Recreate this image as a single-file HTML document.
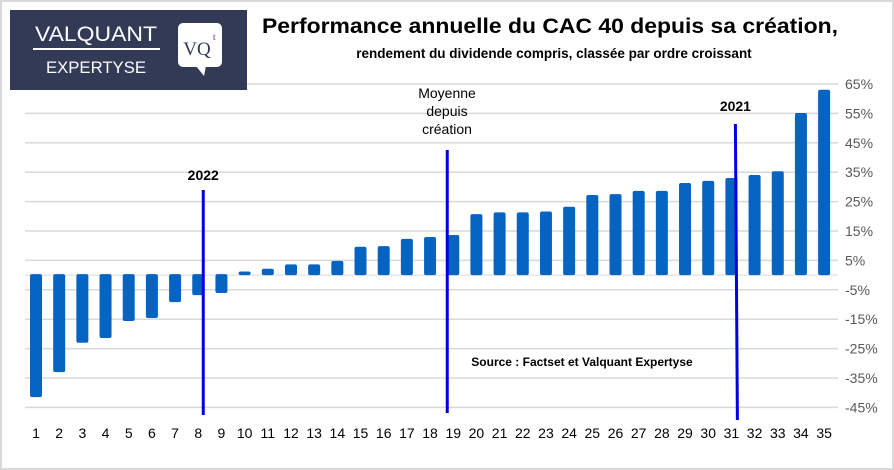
<!DOCTYPE html>
<html><head><meta charset="utf-8"><style>
body{margin:0;background:#fff;}
#wrap{position:relative;width:894px;height:470px;overflow:hidden;font-family:"Liberation Sans",sans-serif;}
</style></head><body>
<div id="wrap">
<svg id="svg" width="894" height="470" xmlns="http://www.w3.org/2000/svg">
<rect x="1" y="1" width="892" height="468" fill="#fff" stroke="#d9d9d9" stroke-width="2"/>
<text x="550" y="33" font-size="21" font-weight="bold" text-anchor="middle" fill="#000" textLength="576" lengthAdjust="spacingAndGlyphs">Performance annuelle du CAC 40 depuis sa création,</text>
<text x="554" y="58" font-size="13.5" font-weight="bold" text-anchor="middle" fill="#000">rendement du dividende  compris, classée par ordre croissant</text>
<g id="grid"></g><g id="bars"></g><g id="labels"></g><g id="ann"></g>
<text x="582" y="366" font-size="12" font-weight="bold" text-anchor="middle">Source : Factset et Valquant Expertyse</text>
<g>
<rect x="10" y="10" width="237" height="80" fill="#323a56"/>
<text x="96" y="41" font-size="21" fill="#fff" text-anchor="middle" font-family="Liberation Sans,sans-serif" textLength="122" lengthAdjust="spacingAndGlyphs">VALQUANT</text>
<rect x="33" y="48" width="127" height="2" fill="#fff"/>
<text x="96" y="73" font-size="17" fill="#fff" text-anchor="middle" font-family="Liberation Sans,sans-serif" textLength="100" lengthAdjust="spacingAndGlyphs">EXPERTYSE</text>
<rect x="178" y="23" width="44" height="44" rx="5" fill="#fff"/>
<path d="M196 66 L204 76 L206 66Z" fill="#fff"/>
<text x="197" y="55" font-size="19" fill="#323a56" text-anchor="middle" font-family="Liberation Serif,serif">VQ</text>
<text x="213" y="40" font-size="9" fill="#323a56" font-family="Liberation Serif,serif">t</text>
</g>
</svg>
</div>
<script>
const categories=[1,2,3,4,5,6,7,8,9,10,11,12,13,14,15,16,17,18,19,20,21,22,23,24,25,26,27,28,29,30,31,32,33,34,35];
const values=[-41.5,-33,-23,-21.4,-15.6,-14.6,-9.2,-6.8,-6.1,0.9,1.8,3.3,3.3,4.5,9.3,9.5,12,12.6,13.3,20.4,21,21,21.3,22.9,26.9,27.2,28.3,28.3,31,31.7,32.7,33.7,35,54.8,62.7];
const yTicks=[65,55,45,35,25,15,5,-5,-15,-25,-35,-45];
const markerCats=[8,19,31];
const markerLabels=["2022","Moyenne|depuis|création","2021"];
const NS="http://www.w3.org/2000/svg";
const y=v=>84+(65-v)*2.94;
const x=i=>36+(i-1)*23.18;
function mk(t,a,p){const e=document.createElementNS(NS,t);for(const k in a)e.setAttribute(k,a[k]);document.getElementById(p).appendChild(e);return e;}
yTicks.forEach(t=>{
 const l=mk('line',{x1:25,x2:838,y1:y(t),y2:y(t),stroke:'#d9d9d9','stroke-width':1.5},'grid');
 
 
 const tx=mk('text',{x:845,y:y(t)+5,'font-size':14,fill:'#595959'},'labels');
 tx.textContent=t+'%';
 
 
});
mk('line',{x1:25,x2:838,y1:y(0),y2:y(0),stroke:'#d9d9d9','stroke-width':1},'grid');
values.forEach((v,i)=>{
 const c=categories[i];const top=Math.min(y(v),y(0)),h=Math.max(Math.abs(y(v)-y(0)),2);
 const r=mk('rect',{x:x(c)-6,y:top-1,width:12,height:h+1,rx:2,fill:'#0563c1'},'bars');
 
 
 const t=mk('text',{x:x(c),y:438,'font-size':14,'text-anchor':'middle',fill:'#000'},'labels');
 t.textContent=c;
 
 
});
const lineTops=[190,150,124],lineBots=[415,413,420],offs=[5,-6,4];
markerCats.forEach((c,k)=>{
 const xx=x(c)+offs[k];
 const l=mk('line',{x1:xx,x2:xx+(k==2?2:0),y1:lineTops[k],y2:lineBots[k],stroke:'#0000e0','stroke-width':3},'ann');
 
 
 const parts=markerLabels[k].split('|');
 parts.forEach((p,j)=>{
  const ly=k==0?180:k==2?111:98+j*18;
  const t=mk('text',{x:k==1?447:xx,y:ly,'font-size':14,'text-anchor':'middle','font-weight':parts.length>1?'normal':'bold'},'ann');
  t.textContent=p;
  
  
 });
});
</script>
</body></html>
